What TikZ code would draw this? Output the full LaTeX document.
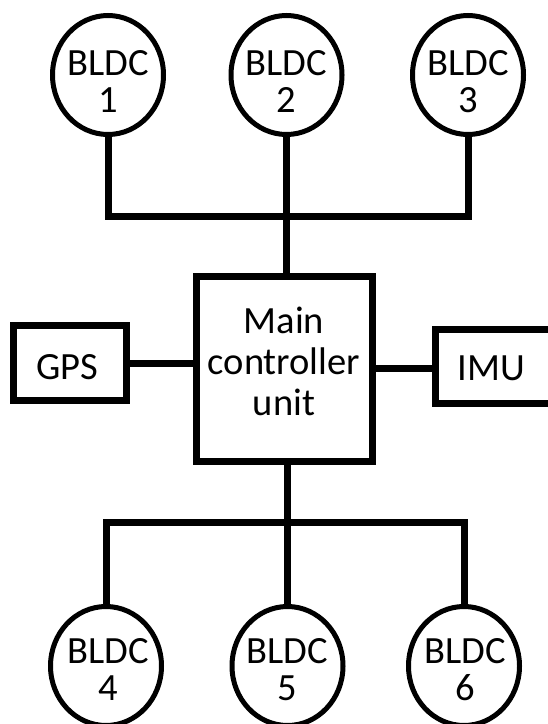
\documentclass[tikz,border=0pt]{standalone}
\usepackage{fontspec}
\setmainfont{Carlito}
\usetikzlibrary{shapes.geometric}
\begin{document}
\begin{tikzpicture}[x=0.75pt,y=-0.75pt,
  motor/.style={draw, ellipse, line width=3.75pt, minimum width=83.25pt, minimum height=89.25pt, inner sep=0pt, outer sep=0pt, fill=white},
  box/.style={draw, rectangle, line width=5.25pt, inner sep=0pt, outer sep=0pt, fill=white},
  mlbl/.style={align=center, inner sep=0pt, font=\fontsize{28.9}{27.75}\selectfont},
  blbl/.style={align=center, inner sep=0pt, font=\fontsize{28.9}{30.75}\selectfont},
  wire/.style={line width=5.25pt}]
\fill[white] (0,0) rectangle (548,724);
\useasboundingbox (0,0) rectangle (548,724);
\clip (0,0) rectangle (548,724);

\coordinate (hubT) at (286.5,216);
\coordinate (hubB) at (287.5,522);

\node[motor] (m1) at (108,75) {};
\node[motor] (m2) at (286.5,75) {};
\node[motor] (m3) at (468,75) {};
\node[motor] (m4) at (106,666) {};
\node[motor] (m5) at (287.5,666) {};
\node[motor] (m6) at (464,666) {};

\node[box, minimum width=132pt, minimum height=138.75pt] (mcu) at (284,369) {};
\node[box, minimum width=84.75pt, minimum height=55.9pt] (gps) at (70,363.25) {};
\node[box, minimum width=87.75pt, minimum height=55pt] (imu) at (493.5,366.35) {};

\draw[wire] (m1.south) |- (hubT) -| (m3.south);
\draw[wire] (m2.south) -- (m2.south |- mcu.north);
\draw[wire] (mcu.south -| hubB) -- (hubB);
\draw[wire] (m4.north) |- (hubB) -| (m6.north);
\draw[wire] (hubB) -- (m5.north);
\draw[wire] (gps.east) -- (gps.east -| mcu.west);
\draw[wire] (imu.west |- 0,368.5) -- (mcu.east |- 0,368.5);

\node[mlbl] (t1) at (108,81.5) {BLDC\\1};
\node[mlbl] (t2) at (286.5,81.5) {BLDC\\2};
\node[mlbl] (t3) at (468,81.5) {BLDC\\3};
\node[mlbl] (t4) at (108,669.5) {BLDC\\4};
\node[mlbl] (t5) at (287,669.5) {BLDC\\5};
\node[mlbl] (t6) at (465,669.5) {BLDC\\6};
\node[blbl] (tm) at (284,361.5) {Main\\controller\\unit};
\node[blbl] (tg) at (67,367) {GPS};
\node[blbl] (ti) at (491.5,368.3) {IMU};
\end{tikzpicture}
\end{document}
